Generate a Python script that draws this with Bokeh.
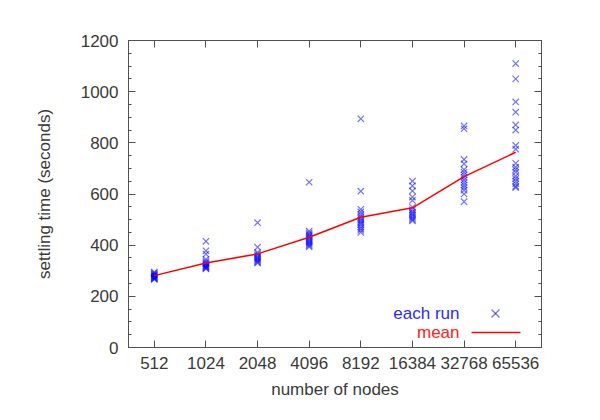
from bokeh.plotting import figure
from bokeh.models import (FactorRange, Range1d, LinearAxis, CategoricalAxis,
                          SingleIntervalTicker, Label, Arrow)
from bokeh.embed import file_html
from bokeh.resources import INLINE

# ---- data ----
nodes = ["512", "1024", "2048", "4096", "8192", "16384", "32768", "65536"]

runs_512 = [295, 292, 288, 285, 283, 280, 278, 276, 274, 272, 270, 268, 266]
runs_1024 = [415, 378, 365, 345, 338, 332, 328, 324, 320, 318, 315, 312, 310, 307]
runs_2048 = [488, 392, 372, 366, 360, 355, 350, 346, 342, 338, 334, 330]
runs_4096 = [646, 455, 448, 442, 437, 432, 427, 422, 417, 412, 408, 403, 398, 393]
runs_8192 = [894, 611, 540, 530, 520, 512, 505, 498, 492, 486, 480, 472, 465, 458, 450]
runs_16384 = [650, 632, 612, 588, 575, 548, 538, 530, 524, 518, 512, 506, 500, 495]
runs_32768 = [866, 855, 735, 718, 695, 685, 675, 665, 655, 645, 635, 625, 615, 600, 570]
runs_65536 = [1110, 1050, 960, 920, 870, 850, 790, 775, 720, 705, 695, 685, 670,
              660, 650, 640, 630, 625]

mean_time = [281, 330, 366, 431, 509, 546, 668, 763]

y_ticks_interval = 200
y_min, y_max = 0, 1200

all_runs = [runs_512, runs_1024, runs_2048, runs_4096, runs_8192,
            runs_16384, runs_32768, runs_65536]
run_x = []
run_y = []
for n, vals in zip(nodes, all_runs):
    run_x += [n] * len(vals)
    run_y += vals

FONT = "Liberation Sans"
TXT = "#3a3a3a"
AX = "#505050"

p = figure(width=600, height=420, output_backend="svg", toolbar_location=None,
           x_range=FactorRange(*nodes, range_padding=0),
           y_range=Range1d(y_min, y_max),
           min_border_left=128, min_border_right=59,
           min_border_top=40, min_border_bottom=73,
           x_axis_type=None, y_axis_type=None)
p.xgrid.visible = False
p.ygrid.visible = False
p.outline_line_color = AX
p.background_fill_color = "white"
p.border_fill_color = "white"

def style_axis(ax, labels=True):
    ax.axis_line_color = AX
    ax.major_tick_line_color = AX
    ax.minor_tick_line_color = AX
    ax.major_tick_in = 7
    ax.major_tick_out = 0
    ax.minor_tick_in = 3
    ax.minor_tick_out = 0
    ax.major_label_text_font = FONT
    ax.major_label_text_color = TXT
    if labels:
        ax.major_label_text_font_size = "17px"
    else:
        ax.major_label_text_font_size = "1px"
        ax.major_label_text_alpha = 0
    ax.axis_label_text_font = FONT
    ax.axis_label_text_color = TXT
    ax.axis_label_text_font_size = "17px"
    ax.axis_label_text_font_style = "normal"

# bottom
xb = CategoricalAxis(axis_label="number of nodes")
style_axis(xb)
xb.major_label_standoff = 9
xb.axis_label_standoff = 8
p.add_layout(xb, "below")
# top (ticks only)
xt = CategoricalAxis()
style_axis(xt, labels=False)
xt.major_label_standoff = 0
p.add_layout(xt, "above")
# left
yl = LinearAxis(axis_label="settling time (seconds)",
                ticker=SingleIntervalTicker(interval=y_ticks_interval, num_minor_ticks=4))
style_axis(yl)
yl.major_label_standoff = 10
yl.axis_label_standoff = 24
p.add_layout(yl, "left")
# right (ticks only)
yr = LinearAxis(ticker=SingleIntervalTicker(interval=y_ticks_interval, num_minor_ticks=4))
style_axis(yr, labels=False)
yr.major_label_standoff = 0
p.add_layout(yr, "right")

# runs
p.scatter(x=run_x, y=run_y, marker="x", size=9, line_color="#0000ff",
          line_alpha=0.55, line_width=1.2)
# mean
p.line(x=nodes, y=mean_time, line_color="#ff0000", line_width=1.5)

# legend (gnuplot style: text right-aligned, sample to the right)
p.add_layout(Label(x=331, y=34, x_units="screen", y_units="screen", text="each run",
                   text_align="right", text_baseline="middle", text_color="#2b2bff",
                   text_font=FONT, text_font_size="17px"))
p.add_layout(Label(x=331, y=15, x_units="screen", y_units="screen", text="mean",
                   text_align="right", text_baseline="middle", text_color="#ff2020",
                   text_font=FONT, text_font_size="17px"))
p.add_layout(Arrow(end=None, x_start=363, y_start=30, x_end=371, y_end=38,
                   start_units="screen", end_units="screen",
                   line_color="#0000ff", line_alpha=0.55, line_width=1.2))
p.add_layout(Arrow(end=None, x_start=363, y_start=38, x_end=371, y_end=30,
                   start_units="screen", end_units="screen",
                   line_color="#0000ff", line_alpha=0.55, line_width=1.2))
p.add_layout(Arrow(end=None, x_start=343, y_start=15, x_end=392, y_end=15,
                   start_units="screen", end_units="screen",
                   line_color="#ff0000", line_width=1.5))

open("out.html", "w").write(file_html(p, INLINE))
